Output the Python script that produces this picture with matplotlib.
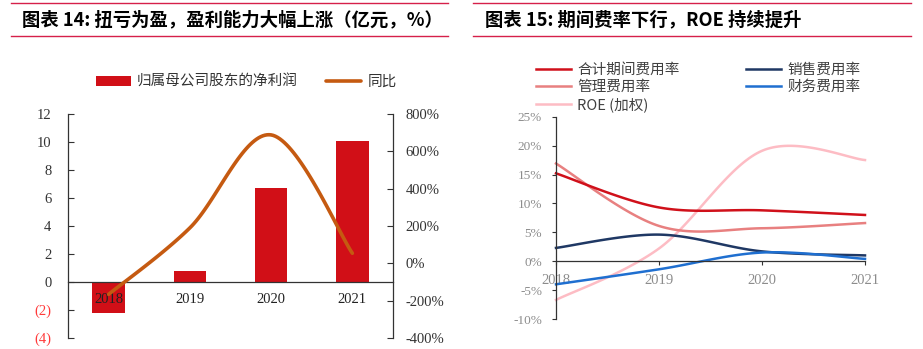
import matplotlib
matplotlib.use('Agg')
import matplotlib.pyplot as plt
import numpy as np
from matplotlib.lines import Line2D

plt.rcParams['font.family'] = ['Liberation Serif', 'Noto Sans CJK SC', 'DejaVu Sans']
plt.rcParams['axes.unicode_minus'] = False

CJK = ['Noto Sans CJK SC', 'DejaVu Sans']
NUM = ['Liberation Serif', 'Noto Sans CJK SC']

# 图表 14 数据
years = ['2018', '2019', '2020', '2021']
net_profit = [-2.2, 0.8, 6.7, 10.1]          # 亿元
yoy = [-166, 190, 688, 54]                   # %
left_ticks = [12, 10, 8, 6, 4, 2, 0, -2, -4]
left_ticklabels = ['12', '10', '8', '6', '4', '2', '0', '(2)', '(4)']
right_ticks = [800, 600, 400, 200, 0, -200, -400]

# 图表 15 数据
total_rate = [15.2, 9.3, 8.8, 8.0]    # 合计期间费用率
admin_rate = [16.9, 6.1, 5.7, 6.6]    # 管理费用率
roe = [-6.7, 2.2, 19.1, 17.5]         # ROE(加权)
sales_rate = [2.3, 4.6, 1.7, 1.0]     # 销售费用率
fin_rate = [-4.0, -1.4, 1.5, 0.4]     # 财务费用率
pct_ticks = [25, 20, 15, 10, 5, 0, -5, -10]

RED = '#D10F17'
ORANGE = '#C55A11'
TITLE_RED = '#D6204A'


def smooth(xs, ys, n=40):
    """Excel 风格的平滑折线（Catmull-Rom 三次贝塞尔）。"""
    xs = np.asarray(xs, float)
    ys = np.asarray(ys, float)
    px = np.concatenate([[xs[0]], xs, [xs[-1]]])
    py = np.concatenate([[ys[0]], ys, [ys[-1]]])
    out_x, out_y = [], []
    t = np.linspace(0, 1, n)
    for i in range(1, len(px) - 2):
        p0 = np.array([px[i], py[i]])
        p3 = np.array([px[i + 1], py[i + 1]])
        c1 = p0 + (np.array([px[i + 1], py[i + 1]]) - np.array([px[i - 1], py[i - 1]])) / 6
        c2 = p3 - (np.array([px[i + 2], py[i + 2]]) - np.array([px[i], py[i]])) / 6
        b = ((1 - t) ** 3)[:, None] * p0 + (3 * (1 - t) ** 2 * t)[:, None] * c1 \
            + (3 * (1 - t) * t ** 2)[:, None] * c2 + (t ** 3)[:, None] * p3
        out_x.extend(b[:, 0])
        out_y.extend(b[:, 1])
    return np.array(out_x), np.array(out_y)


fig = plt.figure(figsize=(9.23, 3.49), dpi=100)

# 标题与红线
for x0, x1 in [(11 / 923, 448 / 923), (473 / 923, 911 / 923)]:
    for yy in [1 - 3 / 349, 1 - 36 / 349]:
        fig.add_artist(Line2D([x0, x1], [yy, yy], color=TITLE_RED, lw=1.0))
fig.text(22 / 923, 1 - 19.5 / 349, '图表 14: 扭亏为盈，盈利能力大幅上涨（亿元，%）',
         family=CJK, fontsize=13.2, fontweight='bold', va='center', ha='left')
fig.text(485 / 923, 1 - 19.5 / 349, '图表 15: 期间费率下行，ROE 持续提升',
         family=CJK, fontsize=13.2, fontweight='bold', va='center', ha='left')

# ---------------- 图表 14 ----------------
ax = fig.add_axes([68 / 923, 1 - 338 / 349, 325 / 923, 224 / 349])
x = np.arange(len(years))
bars = ax.bar(x, net_profit, width=0.4, color=RED, zorder=1, label='归属母公司股东的净利润')
ax.set_xlim(-0.5, 3.5)
ax.set_ylim(-4, 12)
ax.set_yticks(left_ticks)
ax.set_yticklabels(left_ticklabels)
for lbl in ax.get_yticklabels():
    lbl.set_color('#FF3B3B' if lbl.get_text().startswith('(') else '#333333')
ax.tick_params(axis='y', direction='in', length=4, pad=12, labelsize=10.5, color='#333333')
ax.set_xticks(x)
ax.set_xticklabels(years)
ax.tick_params(axis='x', length=0, pad=8, labelsize=10.5, labelcolor='#222222')
ax.spines['bottom'].set_position(('data', 0))
ax.spines['top'].set_visible(False)
ax.spines['right'].set_visible(False)
for s in ['left', 'bottom']:
    ax.spines[s].set_color('#333333')
    ax.spines[s].set_linewidth(0.9)
ax.patch.set_visible(False)

ax2 = ax.twinx()
sx, sy = smooth(x, yoy)
line_yoy, = ax2.plot(sx, sy, color=ORANGE, lw=2.6, solid_capstyle='round', label='同比')
ax2.set_ylim(-400, 800)
ax2.set_yticks(right_ticks)
ax2.set_yticklabels([f'{v}%' for v in right_ticks])
ax2.tick_params(axis='y', direction='in', length=4, pad=9, labelsize=10.5,
                labelcolor='#333333', color='#333333')
for s in ['top', 'bottom', 'left']:
    ax2.spines[s].set_visible(False)
ax2.spines['right'].set_color('#333333')
ax2.spines['right'].set_linewidth(0.9)

fig.legend([bars, line_yoy], ['归属母公司股东的净利润', '同比'],
           loc='center', bbox_to_anchor=(246 / 923, 1 - 82 / 349), ncol=2,
           frameon=False, prop={'family': CJK, 'size': 10.5}, handlelength=2.4,
           handleheight=0.6, columnspacing=2.0, handletextpad=0.4, labelcolor='#333333')

# ---------------- 图表 15 ----------------
bx = fig.add_axes([556 / 923, 1 - 319 / 349, 309 / 923, 202.3 / 349])
series = [
    (total_rate, '合计期间费用率', '#D0101A'),
    (admin_rate, '管理费用率', '#E88080'),
    (roe, 'ROE (加权)', '#FDBCC4'),
    (sales_rate, '销售费用率', '#1F3864'),
    (fin_rate, '财务费用率', '#1F6FD0'),
]
draw_order = [2, 1, 0, 3, 4]
handles = {}
for i in draw_order:
    vals, name, col = series[i]
    sx, sy = smooth(x, vals)
    h, = bx.plot(sx, sy, color=col, lw=1.8, clip_on=False, label=name)
    handles[i] = h
bx.set_xlim(0, 3)
bx.set_ylim(-10, 25)
bx.set_yticks(pct_ticks)
bx.set_yticklabels([f'{v}%' for v in pct_ticks])
bx.set_xticks(x)
bx.set_xticklabels(years)
bx.tick_params(axis='y', direction='out', length=3, pad=7, labelsize=9.5,
               labelcolor='#8C8C8C', color='#333333')
bx.tick_params(axis='x', direction='out', length=3, pad=6, labelsize=10.5,
               labelcolor='#8C8C8C', color='#333333')
bx.spines['bottom'].set_position(('data', 0))
bx.spines['top'].set_visible(False)
bx.spines['right'].set_visible(False)
for s in ['left', 'bottom']:
    bx.spines[s].set_color('#333333')
    bx.spines[s].set_linewidth(0.9)
bx.patch.set_visible(False)

fig.legend([handles[i] for i in range(5)], [series[i][1] for i in range(5)],
           loc='upper left', bbox_to_anchor=(523 / 923, 1 - 50 / 349), ncol=2,
           frameon=False, prop={'family': NUM[::-1], 'size': 10.5}, handlelength=2.4,
           handletextpad=0.4, columnspacing=4.6, labelspacing=0.2, labelcolor='#404040')

fig.savefig('out.png', dpi=100)
